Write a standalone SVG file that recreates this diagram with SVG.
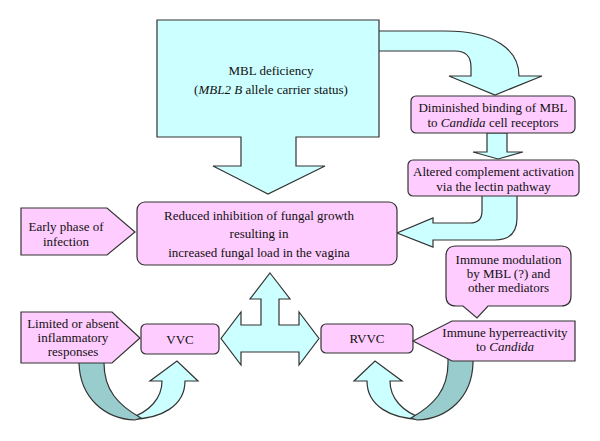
<svg xmlns="http://www.w3.org/2000/svg" width="600" height="441" viewBox="0 0 600 441" font-family="'Liberation Serif', 'Times New Roman', serif">
<style>
.cy{fill:#ccffff;stroke:#333;stroke-width:1.2;stroke-linejoin:miter}
.dk{fill:#99cccc;stroke:#333;stroke-width:1.2}
.pk{fill:#ffccff;stroke:#333;stroke-width:1.2}
text{font-family:'Liberation Serif','Times New Roman',serif;font-size:13px;fill:#111;text-anchor:middle}
.i{font-style:italic}
</style>
<rect width="600" height="441" fill="#fff"/>
<g id="connectors">
  <path class="cy" d="M370,31 H445 C495,31 519,50 519,76 H542 L495,95 L449,76 H471 V67 Q471,51 455,51 H370 Z"/>
  <path class="cy" d="M487,133 V152 H473 L498,159 L523,152 H507 V133 Z"/>
  <path class="cy" d="M482,195 V211 Q482,223 470,223 H433 V218 L397,233 L433,247 V240 H495 Q517,240 517,218 V195 Z"/>
  <path class="cy" d="M270,273 L290,299 H279 V325 H299 V312 L319,338.5 L299,365 V352 H241 V365 L221,338.5 L241,312 V325 H261 V299 H250 Z"/>
  <g id="uturn-left">
    <path class="cy" d="M128,419 C162,420 185,405 185,381 H198 L177,361 L150,381 H162 C162,398 150,412 128,419 Z"/>
    <path class="dk" d="M79,358 V363 C80,398 105,419 135,420 L141,418 C118,405 104,390 104,363 V358 Z"/>
  </g>
  <g id="uturn-right" transform="translate(552,0) scale(-1,1)">
    <path class="cy" d="M128,419 C162,420 185,405 185,381 H198 L177,361 L150,381 H162 C162,398 150,412 128,419 Z"/>
    <path class="dk" d="M79,356 V363 C80,398 105,419 135,420 L141,418 C118,405 104,390 104,363 V356 Z"/>
  </g>
</g>
<g id="mbl-deficiency">
  <path class="cy" d="M157,20 H379 V137 H296 V166 H325 L268,194 L213,166 H241 V137 H157 Z"/>
  <text x="271" y="75">MBL deficiency</text>
  <text x="271" y="93.5">(<tspan class="i">MBL2 B</tspan> allele carrier status)</text>
</g>
<g id="diminished">
  <rect class="pk" x="411" y="96" width="164" height="37" rx="5"/>
  <text x="493" y="112">Diminished binding of MBL</text>
  <text x="493" y="127">to <tspan class="i">Candida</tspan> cell receptors</text>
</g>
<g id="altered">
  <rect class="pk" x="408" y="160" width="171" height="36" rx="5"/>
  <text x="493.5" y="176">Altered complement activation</text>
  <text x="493.5" y="190.5">via the lectin pathway</text>
</g>
<g id="reduced">
  <rect class="pk" x="137" y="202" width="260" height="63" rx="8"/>
  <text x="259" y="219.5">Reduced inhibition of fungal growth</text>
  <text x="259" y="238">resulting in</text>
  <text x="259" y="256.5">increased fungal load in the vagina</text>
</g>
<g id="early-phase">
  <path class="pk" d="M21,208 H107 L135,232 L107,255 H21 Z"/>
  <text x="66" y="230.5">Early phase of</text>
  <text x="66" y="245.5">infection</text>
</g>
<g id="immune-modulation">
  <path class="pk" d="M456,246 H561 Q571,246 571,256 V296 Q571,306 561,306 H488 L477,318 L463,306 H456 Q446,306 446,296 V256 Q446,246 456,246 Z"/>
  <text x="508.5" y="263.5">Immune modulation</text>
  <text x="508.5" y="277.5">by MBL (?) and</text>
  <text x="508.5" y="291.5">other mediators</text>
</g>
<g id="limited">
  <path class="pk" d="M21,312 H112 L140,338 L112,363 H21 Z"/>
  <text x="73" y="327.5">Limited or absent</text>
  <text x="73" y="341.5">inflammatory</text>
  <text x="73" y="356">responses</text>
</g>
<g id="vvc">
  <rect class="pk" x="141" y="324" width="78" height="30" rx="5"/>
  <text x="180" y="343.5">VVC</text>
</g>
<g id="rvvc">
  <rect class="pk" x="321" y="324" width="92" height="29" rx="5"/>
  <text x="367" y="343">RVVC</text>
</g>
<g id="hyperreactivity">
  <path class="pk" d="M413,341 L452,321 H575 V361 H452 Z"/>
  <text x="505" y="337">Immune hyperreactivity</text>
  <text x="505" y="351">to <tspan class="i">Candida</tspan></text>
</g>
</svg>
